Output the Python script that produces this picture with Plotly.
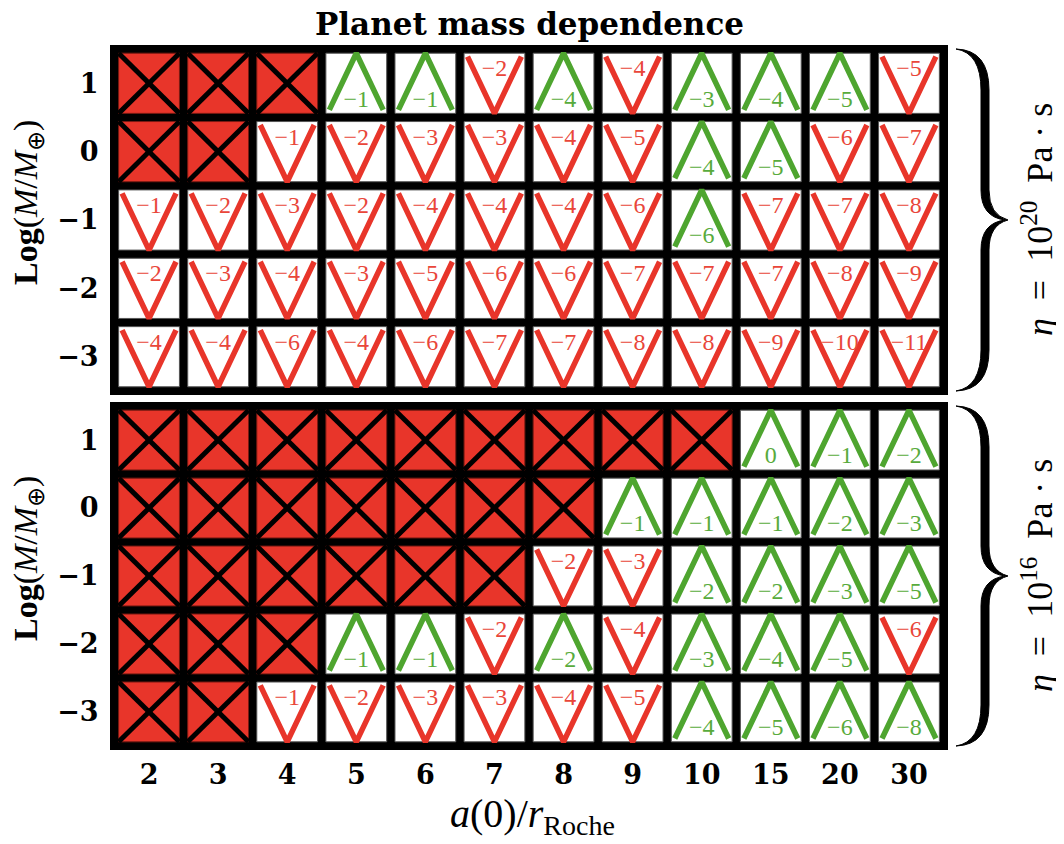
import plotly.graph_objects as go

# ---------------- data ----------------
x_labels = ["2", "3", "4", "5", "6", "7", "8", "9", "10", "15", "20", "30"]
mass_rows = [1, 0, -1, -2, -3]
mass_labels = ["1", "0", "−1", "−2", "−3"]

# X = disrupted, V = red (decreasing), A = green (increasing)
kind_eta20 = [
    "XXXAAVAVAAAV",
    "XXVVVVVVAAVV",
    "VVVVVVVVAVVV",
    "VVVVVVVVVVVV",
    "VVVVVVVVVVVV",
]
val_eta20 = [
    [None, None, None, -1, -1, -2, -4, -4, -3, -4, -5, -5],
    [None, None, -1, -2, -3, -3, -4, -5, -4, -5, -6, -7],
    [-1, -2, -3, -2, -4, -4, -4, -6, -6, -7, -7, -8],
    [-2, -3, -4, -3, -5, -6, -6, -7, -7, -7, -8, -9],
    [-4, -4, -6, -4, -6, -7, -7, -8, -8, -9, -10, -11],
]
kind_eta16 = [
    "XXXXXXXXXAAA",
    "XXXXXXXAAAAA",
    "XXXXXXVVAAAA",
    "XXXAAVAVAAAV",
    "XXVVVVVVAAAA",
]
val_eta16 = [
    [None, None, None, None, None, None, None, None, None, 0, -1, -2],
    [None, None, None, None, None, None, None, -1, -1, -1, -2, -3],
    [None, None, None, None, None, None, -2, -3, -2, -2, -3, -5],
    [None, None, None, -1, -1, -2, -2, -4, -3, -4, -5, -6],
    [None, None, -1, -2, -3, -3, -4, -5, -4, -5, -6, -8],
]
NB = "\u00a0"
panel_labels = [
    "<i>η</i>" + NB * 2 + "=" + NB * 2 + "10<sup>20</sup>" + NB * 2 + "Pa" + NB + "·" + NB + "s",
    "<i>η</i>" + NB * 2 + "=" + NB * 2 + "10<sup>16</sup>" + NB * 2 + "Pa" + NB + "·" + NB + "s",
]

# ---------------- style ----------------
RED = "#E8352A"
GREEN = "#4EA52F"
RED_TXT = "#E9463A"
GREEN_TXT = "#58AB3C"
H = 0.44      # half cell size (data units)
ARM = 0.39

W, HT = 1064, 844
PAGE_OFF = 8                      # default body margin of the html page
SL, SR, ST, SB = 110, 948, 45, 750  # plot area on screen
ML, MT = SL - PAGE_OFF, ST - PAGE_OFF
MR, MB = W - (SR - PAGE_OFF), HT - (SB - PAGE_OFF)
PW, PH = SR - SL, SB - ST


def fx(px):
    return (px - SL) / PW


def fy(py):
    return (SB - py) / PH


fig = go.Figure()
shapes = []

panels = [
    ("x2", "y2", kind_eta20, val_eta20),
    ("x", "y", kind_eta16, val_eta16),
]

for xa, ya, kinds, vals in panels:
    vx, vy, ax_, ay_, xx, xy = [], [], [], [], [], []
    tvx, tvy, tvt, tax, tay, tat = [], [], [], [], [], []
    for r, m in enumerate(mass_rows):
        for i in range(len(x_labels)):
            k = kinds[r][i]
            v = vals[r][i]
            shapes.append(dict(
                type="rect", xref=xa, yref=ya, layer="below",
                x0=i - H, x1=i + H, y0=m - H, y1=m + H,
                fillcolor=RED if k == "X" else "white",
                line=dict(color="#555555" if k != "X" else "#7a1a12", width=1),
            ))
            if k == "X":
                xx += [i - H, i + H, None, i - H, i + H, None]
                xy += [m + H, m - H, None, m - H, m + H, None]
            elif k == "V":
                vx += [i - ARM, i, i + ARM, None]
                vy += [m + ARM, m - H, m + ARM, None]
                tvx.append(i)
                tvy.append(m + 0.19)
                tvt.append(("−%d" % abs(v)) if v < 0 else str(v))
            else:
                ax_ += [i - ARM, i, i + ARM, None]
                ay_ += [m - ARM, m + H, m - ARM, None]
                tax.append(i)
                tay.append(m - 0.255)
                tat.append(("−%d" % abs(v)) if v < 0 else str(v))
    common = dict(xaxis=xa, yaxis=ya, hoverinfo="skip", showlegend=False)
    fig.add_trace(go.Scatter(x=xx, y=xy, mode="lines",
                             line=dict(color="black", width=5), **common))
    fig.add_trace(go.Scatter(x=vx, y=vy, mode="lines",
                             line=dict(color=RED, width=5.5), **common))
    fig.add_trace(go.Scatter(x=ax_, y=ay_, mode="lines",
                             line=dict(color=GREEN, width=5.5), **common))
    fig.add_trace(go.Scatter(x=tvx, y=tvy, mode="text", text=tvt,
                             textfont=dict(family="Liberation Serif", size=24, color=RED_TXT),
                             **common))
    fig.add_trace(go.Scatter(x=tax, y=tay, mode="text", text=tat,
                             textfont=dict(family="Liberation Serif", size=24, color=GREEN_TXT),
                             **common))


# ---------------- braces ----------------
def brace_path(top, bot, xl=956, xo=989, xi=981, xt=1008):
    mid = (top + bot) / 2
    pts = [
        ("M", [(xl, top - 1)]),
        ("Q", [(xo, top), (xo, top + 40)]),
        ("L", [(xo, mid - 30)]),
        ("Q", [(xo, mid - 5), (xt, mid)]),
        ("Q", [(xo, mid + 5), (xo, mid + 30)]),
        ("L", [(xo, bot - 40)]),
        ("Q", [(xo, bot), (xl, bot + 1)]),
        ("Q", [(xi, bot - 3), (xi, bot - 40)]),
        ("L", [(xi, mid + 30)]),
        ("Q", [(xi, mid + 3), (xt - 3, mid)]),
        ("Q", [(xi, mid - 3), (xi, mid - 30)]),
        ("L", [(xi, top + 40)]),
        ("Q", [(xi, top + 3), (xl, top - 1)]),
    ]
    s = ""
    for cmd, ps in pts:
        s += cmd + " " + " ".join("%.5f,%.5f" % (fx(a), fy(b)) for a, b in ps) + " "
    return s + "Z"


panel_px = [(45, 395), (402, 750)]
for (top, bot), lab in zip(panel_px, panel_labels):
    shapes.append(dict(type="path", xref="paper", yref="paper",
                       path=brace_path(top + 5, bot - 5),
                       fillcolor="black", line=dict(color="black", width=1)))

annotations = []
for (top, bot), lab in zip(panel_px, panel_labels):
    mid = (top + bot) / 2
    annotations.append(dict(
        text=lab, xref="paper", yref="paper", x=fx(1037), y=fy(mid),
        xanchor="center", yanchor="middle", textangle=-90, showarrow=False,
        font=dict(family="Liberation Serif", size=36, color="black")))
    annotations.append(dict(
        text="<b>Log</b>(<i>M</i>/<i>M</i><sub>⊕</sub>)", xref="paper", yref="paper",
        x=fx(28), y=fy(mid - 17), xanchor="center", yanchor="middle",
        textangle=-90, showarrow=False,
        font=dict(family="Liberation Serif", size=34, color="black")))

annotations.append(dict(
    text="<i>a</i>(0)/<i>r</i><sub>Roche</sub>", xref="paper", yref="paper",
    x=fx(532), y=fy(816), xanchor="center", yanchor="middle", showarrow=False,
    font=dict(family="Liberation Serif", size=40, color="black")))

# title as an annotation so it stays fully inside the page
annotations.append(dict(
    text="<b>Planet mass dependence</b>", xref="paper", yref="paper",
    x=fx(529), y=fy(24), xanchor="center", yanchor="middle", showarrow=False,
    font=dict(family="DejaVu Serif", size=31, color="black")))

tickfont = dict(family="DejaVu Serif", size=27, color="black", weight="bold")
xr = [-0.565, len(x_labels) - 1 + 0.565]
yr = [min(mass_rows) - 0.56, max(mass_rows) + 0.56]

fig.update_layout(
    width=W, height=HT,
    margin=dict(l=ML, r=MR, t=MT, b=MB),
    paper_bgcolor="white", plot_bgcolor="black",
    xaxis=dict(domain=[0, 1], anchor="y", range=xr, tickvals=list(range(len(x_labels))),
               ticktext=x_labels, tickfont=tickfont, showgrid=False, zeroline=False,
               ticks="outside", ticklen=1, tickcolor="rgba(0,0,0,0)", fixedrange=True),
    xaxis2=dict(domain=[0, 1], anchor="y2", range=xr, showticklabels=False,
                showgrid=False, zeroline=False, fixedrange=True),
    yaxis=dict(domain=[0, fy(402)], anchor="x", range=yr, tickvals=mass_rows,
               ticktext=mass_labels, tickfont=tickfont, showgrid=False, zeroline=False,
               ticks="outside", ticklen=5, tickcolor="rgba(0,0,0,0)", fixedrange=True),
    yaxis2=dict(domain=[fy(395), 1], anchor="x2", range=yr, tickvals=mass_rows,
                ticktext=mass_labels, tickfont=tickfont, showgrid=False, zeroline=False,
                ticks="outside", ticklen=5, tickcolor="rgba(0,0,0,0)", fixedrange=True),
    shapes=shapes,
    annotations=annotations,
)

fig.write_html("out.html")
